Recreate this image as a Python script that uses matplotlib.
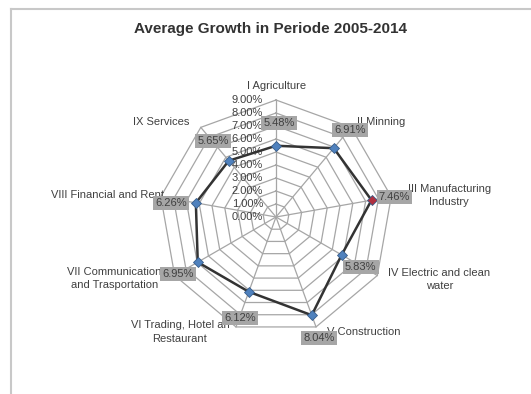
import numpy as np
import matplotlib.pyplot as plt
from matplotlib.lines import Line2D

plt.rcParams['font.family'] = ['Liberation Sans', 'DejaVu Sans']

# categories and average growth values (%)
categories = ["I Agriculture", "II Minning", "III Manufacturing\nIndustry",
              "IV Electric and clean\nwater", "V Construction",
              "VI Trading, Hotel an\nRestaurant", "VII Communication\nand Trasportation",
              "VIII Financial and Rent", "IX Services"]
growth = [5.48, 6.91, 7.46, 5.83, 8.04, 6.12, 6.95, 6.26, 5.65]
ticks = [0, 1, 2, 3, 4, 5, 6, 7, 8, 9]
tick_labels = ["%.2f%%" % t for t in ticks]

n = len(categories)
ang = np.arange(n) * 2 * np.pi / n
rmax = ticks[-1]

def xy(r, a):
    return r * np.sin(a), r * np.cos(a)

W, H = 531, 394
scale = 13.0  # px per percent
cx, cy = 276, 217
fig = plt.figure(figsize=(W / 100, H / 100), dpi=100)
ax = fig.add_axes([0, 0, 1, 1])
ax.set_xlim(-cx / scale, (W - cx) / scale)
ax.set_ylim(-(H - cy) / scale, cy / scale)
ax.axis('off')

# polygon grid
grid_c = '#a6a6a6'
ring_a = np.append(ang, ang[0])
for t in ticks[1:]:
    gx, gy = xy(t, ring_a)
    ax.plot(gx, gy, color=grid_c, lw=0.9, zorder=1)
for a in ang:
    gx, gy = xy(np.array([0, rmax]), a)
    ax.plot(gx, gy, color=grid_c, lw=0.9, zorder=1)

# tick labels along the first axis
for t, lab in zip(ticks, tick_labels):
    ax.annotate(lab, (0, t), xytext=(-13, 0), textcoords='offset pixels',
                ha='right', va='center', fontsize=8, color='#404040', zorder=3)

# series
vals = np.array(growth)
px, py = xy(np.append(vals, vals[0]), ring_a)
ax.plot(px, py, color='#333333', lw=1.8, zorder=4)
mcol = ['#4f81bd'] * n
mcol[2] = '#b0303f'
for i in range(n):
    ax.plot(px[i], py[i], marker='D', ms=5, color=mcol[i],
            mec='#385d8a', mew=0.6, zorder=5)

# data labels
lab_off = [(3, 23), (16, 18), (23, 3), (19, -12), (7, -23),
           (-9, -26), (-20, -12), (-25, 0), (-16, 20)]
for i in range(n):
    ax.annotate("%.2f%%" % growth[i], (px[i], py[i]), xytext=lab_off[i],
                textcoords='offset pixels', ha='center', va='center',
                fontsize=8, color='#404040', zorder=7,
                bbox=dict(boxstyle='square,pad=0.2', fc='#a6a6a6', ec='none'))

# category labels
cat_off = [(1, 14, 'center'), (6, 5, 'left'), (58, 1, 'center'), (62, -4, 'center'),
           (48, -5, 'center'), (-56, -5, 'center'), (-60, -3, 'center'),
           (3, 2, 'right'), (-11, 5, 'right')]
for i in range(n):
    vx, vy = xy(rmax, ang[i])
    dx, dy, ha = cat_off[i]
    ax.annotate(categories[i], (vx, vy), xytext=(dx, dy), textcoords='offset pixels',
                ha=ha, va='center', fontsize=8, color='#404040',
                linespacing=1.45, zorder=6)

# title
fig.text(271 / W, 1 - 29 / H, "Average Growth in Periode 2005-2014",
         ha='center', va='center', fontsize=11, fontweight='bold', color='#333333')

# chart area border
fig.add_artist(Line2D([11 / W, 1], [1 - 9 / H, 1 - 9 / H], transform=fig.transFigure,
                      color='#c8c8c8', lw=1.5))
fig.add_artist(Line2D([11 / W, 11 / W], [0, 1 - 9 / H], transform=fig.transFigure,
                      color='#c8c8c8', lw=1.5))

fig.savefig('out.png', dpi=100)
